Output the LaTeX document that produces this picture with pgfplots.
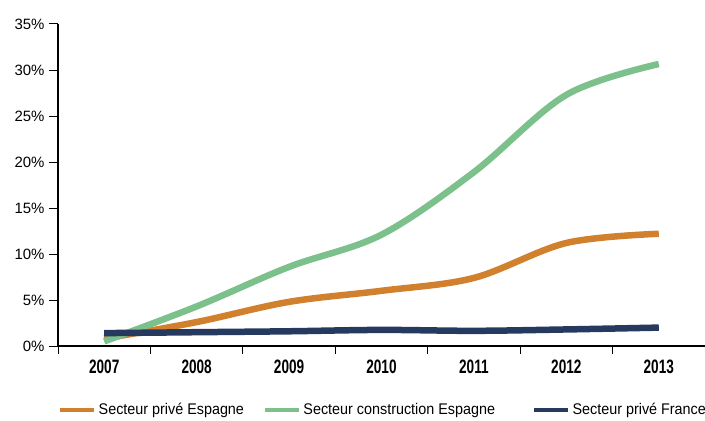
\documentclass[border=0pt]{standalone}
\usepackage{fontspec}
\setmainfont{Liberation Sans}
\newfontfamily\legfont[FakeStretch=0.93]{Liberation Sans}
\newfontfamily\yearfont[FakeStretch=0.70]{Liberation Sans}
\usepackage{pgfplots}
\pgfplotsset{compat=1.18}

\definecolor{orangeES}{RGB}{209,128,46}
\definecolor{greenES}{RGB}{124,192,140}
\definecolor{navyFR}{RGB}{38,58,96}

\begin{document}
\begin{tikzpicture}
\path[use as bounding box] (-58bp,-75bp) rectangle (647bp,346bp);
\begin{axis}[
  at={(0,0)}, anchor=south west,
  scale only axis,
  width=647bp, height=322bp,
  xmin=-0.5, xmax=6.5,
  ymin=0, ymax=35,
  axis x line*=bottom,
  axis y line*=left,
  axis line style={line width=1.6pt, black},
  xtick={0,1,2,3,4,5,6},
  xticklabels={2007,2008,2009,2010,2011,2012,2013},
  major x tick style={draw=none},
  minor xtick={-0.5,0.5,1.5,2.5,3.5,4.5,5.5,6.5},
  minor x tick style={line width=1pt, black},
  minor tick length=8bp,
  xticklabel style={font=\yearfont\bfseries\fontsize{19.5}{20}\selectfont, yshift=-1bp},
  ytick={0,5,10,15,20,25,30,35},
  yticklabel={\pgfmathprintnumber{\tick}\%},
  ytick style={line width=1pt, black},
  major tick length=9bp,
  tick align=outside,
  yticklabel style={font=\fontsize{15}{16}\selectfont, xshift=-1bp},
  /pgf/number format/assume math mode=true,
  clip=false,
  legend columns=3,
  legend style={
    at={(rel axis cs:0,0)}, anchor=west,
    xshift=0bp, yshift=-64bp,
    draw=none, fill=none, inner sep=0pt,
    font=\legfont\fontsize{15.5}{16}\selectfont,
    nodes={inner sep=0pt},
    /tikz/every odd column/.append style={column sep=2bp},
    /tikz/column 2/.style={column sep=19bp},
    /tikz/column 4/.style={column sep=37bp},
  },
  legend image code/.code={\draw[#1, line width=4.5bp] (0bp,0bp) -- (34bp,0bp);},
]
\addplot[orangeES, line width=6.5bp, smooth, tension=0.55] coordinates {
  (0,0.8) (1,2.6) (2,4.8) (3,6.0) (4,7.4) (5,11.2) (6,12.2)
};
\addlegendentry{Secteur privé Espagne}
\addplot[greenES, line width=6.5bp, smooth, tension=0.55] coordinates {
  (0,0.5) (1,4.3) (2,8.6) (3,12.1) (4,18.9) (5,27.3) (6,30.65)
};
\addlegendentry{Secteur construction Espagne}
\addplot[navyFR, line width=6.5bp, smooth, tension=0.55] coordinates {
  (0,1.4) (1,1.5) (2,1.6) (3,1.75) (4,1.65) (5,1.8) (6,2.0)
};
\addlegendentry{Secteur privé France}
\end{axis}
\end{tikzpicture}
\end{document}
